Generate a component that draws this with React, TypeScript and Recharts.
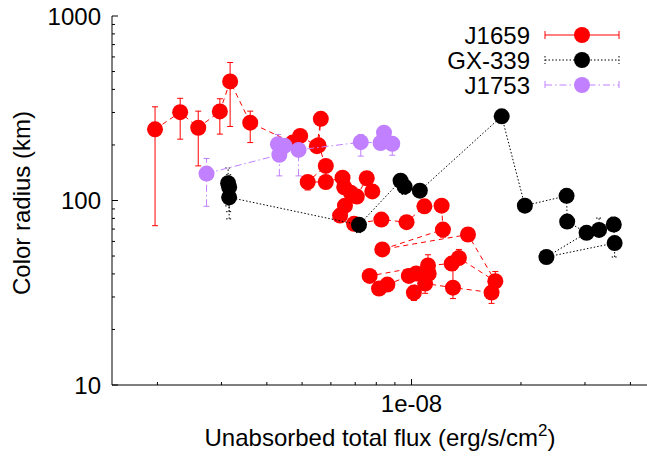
import React from 'react';
import { ScatterChart, Scatter, XAxis, YAxis, ErrorBar } from 'recharts';

// ---- Data ----
const j1659Flux = [1.97e-9, 2.31e-9, 2.59e-9, 2.97e-9, 3.17e-9, 3.6e-9, 4.71e-9, 4.94e-9, 5.49e-9, 5.63e-9, 5.55e-9, 5.81e-9, 5.18e-9, 5.81e-9, 6.46e-9, 6.53e-9, 6.81e-9, 7.07e-9, 7.53e-9, 7.8e-9, 6.56e-9, 6.36e-9, 6.95e-9, 8.26e-9, 9.69e-9, 1.085e-8, 1.21e-8, 1.22e-8, 8.31e-9, 1.43e-8, 1.7e-8, 1.35e-8, 1.29e-8, 1.11e-8, 7.67e-9, 8.14e-9, 8.58e-9, 9.83e-9, 1.015e-8, 1.03e-8, 1.115e-8, 1.09e-8, 1.3e-8, 1.66e-8];
const j1659Radius = [243, 301, 248, 304, 442, 264, 206, 224, 197, 277, 199, 154, 126, 126, 133, 118, 110, 105, 132, 112, 93.8, 82.8, 74.7, 78.8, 76.3, 93, 93.8, 69.6, 54.3, 65.4, 36.5, 48.8, 45.5, 44.5, 39, 33.3, 35, 39, 31.7, 40.2, 40.2, 35.5, 33.7, 31.7];
const j1659Low = [73, 215, 154, 229, 252, 206, 196, 212, 188, 264, 190, 147, 114, 116, 127, 112, 105, 100, 126, 107, 89, 79, 71, 75, 73, 89, 89, 63.3, 52, 62, 34.5, 46, 43, 42, 37, 31.6, 33, 37, 28.7, 38, 38, 31.4, 29.4, 27.7];
const j1659High = [322, 358, 305, 356, 560, 305, 216, 236, 206, 290, 208, 161, 132, 132, 139, 124, 115, 110, 138, 117, 98, 87, 78, 82, 80, 97, 98, 73, 57, 68, 41.2, 54.3, 48, 50.8, 41, 35, 37, 41, 33.5, 42.5, 42.5, 37.5, 41.8, 33.5];

const gxFlux = [3.13e-9, 3.15e-9, 3.15e-9, 7.17e-9, 9.33e-9, 9.57e-9, 1.054e-8, 1.77e-8, 2.05e-8, 2.67e-8, 2.68e-8, 3.03e-8, 2.35e-8, 3.62e-8, 3.6e-8, 3.28e-8];
const gxRadius = [124, 118, 104, 73.8, 128, 119, 113, 286, 93.8, 106, 76.9, 66.8, 49.4, 58.8, 74.1, 69.3];
const gxLow = [93.5, 87, 79.5, 67, 122, 108, 108, 270, 90, 101, 73, 64, 47, 49.4, 70, 66];
const gxHigh = [150, 138, 112, 80, 134, 125, 118, 305, 98, 111, 81, 70, 53.7, 62, 81.2, 80.3];

const j1753Flux = [2.73e-9, 4.33e-9, 4.29e-9, 4.47e-9, 4.89e-9, 7.25e-9, 8.22e-9, 8.4e-9, 8.85e-9];
const j1753Radius = [140, 177, 202, 198, 188, 207, 205, 233, 203];
const j1753Low = [93, 136, 180, 188, 136, 174, 194, 220, 176];
const j1753High = [169, 200, 228, 210, 224, 228, 216, 248, 220];

const seriesNames = ['J1659', 'GX-339', 'J1753'];
const seriesColors = ['#ff0000', '#000000', '#c080ff'];
const seriesDash = ['5 4', '1.5 2', '7 3 1.5 3'];

const xDomain = [1.5e-9, 4.5e-8];
const yDomain = [10, 1000];
const xTicks = [2e-9, 3e-9, 4e-9, 5e-9, 6e-9, 7e-9, 8e-9, 9e-9, 1e-8, 2e-8, 3e-8, 4e-8];
const xMajor = [1e-8];
const xMajorLabels = ['1e-08'];
const yTicks = [10, 20, 30, 40, 50, 60, 70, 80, 90, 100, 200, 300, 400, 500, 600, 700, 800, 900, 1000];
const yMajor = [10, 100, 1000];
const yMajorLabels = ['10', '100', '1000'];

const build = (fx: number[], ry: number[], lo: number[], hi: number[]) =>
  fx.map((x, i) => ({ x, y: ry[i], err: [ry[i] - lo[i], hi[i] - ry[i]] }));

const j1659Data = build(j1659Flux, j1659Radius, j1659Low, j1659High);
const gxData = build(gxFlux, gxRadius, gxLow, gxHigh);
const j1753Data = build(j1753Flux, j1753Radius, j1753Low, j1753High);

const FONT = 'Liberation Sans, Arial, Helvetica, sans-serif';
const FS = 24;
const MAJ = 6;
const MIN = 3;

const XTickBottom = (props: any) => {
  const { x, y, payload } = props;
  const idx = xMajor.indexOf(payload.value);
  const len = idx >= 0 ? MAJ : MIN;
  return (
    <g>
      <line x1={x} x2={x} y1={y} y2={y - len} stroke="#000" strokeWidth={1} />
      {idx >= 0 && (
        <text x={x} y={y + 27} textAnchor="middle" fontSize={FS} fontFamily={FONT} fill="#000">
          {xMajorLabels[idx]}
        </text>
      )}
    </g>
  );
};

const XTickTop = (props: any) => {
  const { x, y, payload } = props;
  const len = xMajor.indexOf(payload.value) >= 0 ? MAJ : MIN;
  return <line x1={x} x2={x} y1={y} y2={y + len} stroke="#000" strokeWidth={1} />;
};

const YTickLeft = (props: any) => {
  const { x, y, payload } = props;
  const idx = yMajor.indexOf(payload.value);
  const len = idx >= 0 ? MAJ : MIN;
  return (
    <g>
      <line x1={x} x2={x + len} y1={y} y2={y} stroke="#000" strokeWidth={1} />
      {idx >= 0 && (
        <text x={x - 11} y={y + 8.5} textAnchor="end" fontSize={FS} fontFamily={FONT} fill="#000">
          {yMajorLabels[idx]}
        </text>
      )}
    </g>
  );
};

const YTickRight = (props: any) => {
  const { x, y, payload } = props;
  const len = yMajor.indexOf(payload.value) >= 0 ? MAJ : MIN;
  return <line x1={x} x2={x - len} y1={y} y2={y} stroke="#000" strokeWidth={1} />;
};

const dot = (color: string) => (p: any) => <circle cx={p.cx} cy={p.cy} r={8} fill={color} />;

const LegendBox = () => {
  const rows = [35, 60, 85];
  return (
    <g>
      {seriesNames.map((name, i) => {
        const cy = rows[i];
        const c = seriesColors[i];
        const dash = i === 0 ? undefined : seriesDash[i];
        return (
          <g key={name}>
            <text x={530} y={cy + 8.5} textAnchor="end" fontSize={FS} fontFamily={FONT} fill="#000">
              {name}
            </text>
            <line x1={545} x2={619} y1={cy} y2={cy} stroke={c} strokeWidth={1} strokeDasharray={dash} />
            <line x1={545} x2={545} y1={cy - 4} y2={cy + 4} stroke={c} strokeWidth={1} strokeDasharray={dash} />
            <line x1={619} x2={619} y1={cy - 4} y2={cy + 4} stroke={c} strokeWidth={1} strokeDasharray={dash} />
            <circle cx={582} cy={cy} r={8} fill={c} />
          </g>
        );
      })}
    </g>
  );
};

export default function App() {
  return (
    <div style={{ position: 'absolute', left: 0, top: 0, width: 647, height: 460, overflow: 'hidden', background: '#fff' }}>
      <ScatterChart width={649} height={460} margin={{ top: 16, right: 0, bottom: 0, left: 0 }}>
        <XAxis
          xAxisId="b"
          dataKey="x"
          type="number"
          scale="log"
          domain={xDomain}
          allowDataOverflow
          ticks={xTicks}
          interval={0}
          tickSize={0}
          tickMargin={0}
          tickLine={false}
          axisLine={{ stroke: '#000', strokeWidth: 1 }}
          height={75}
          tick={<XTickBottom />}
        />
        <XAxis
          xAxisId="t"
          orientation="top"
          type="number"
          scale="log"
          domain={xDomain}
          allowDataOverflow
          ticks={xTicks}
          interval={0}
          tickSize={0}
          tickMargin={0}
          tickLine={false}
          axisLine={{ stroke: '#000', strokeWidth: 1 }}
          height={0}
          tick={<XTickTop />}
        />
        <YAxis
          yAxisId="l"
          dataKey="y"
          type="number"
          scale="log"
          domain={yDomain}
          allowDataOverflow
          ticks={yTicks}
          interval={0}
          tickSize={0}
          tickMargin={0}
          tickLine={false}
          axisLine={{ stroke: '#000', strokeWidth: 1 }}
          width={112}
          tick={<YTickLeft />}
        />
        <YAxis
          yAxisId="r"
          orientation="right"
          type="number"
          scale="log"
          domain={yDomain}
          allowDataOverflow
          ticks={yTicks}
          interval={0}
          tickSize={0}
          tickMargin={0}
          tickLine={false}
          axisLine={{ stroke: '#000', strokeWidth: 1 }}
          width={0}
          tick={<YTickRight />}
        />
        <Scatter
          name={seriesNames[0]}
          data={j1659Data}
          xAxisId="b"
          yAxisId="l"
          isAnimationActive={false}
          line={{ stroke: seriesColors[0], strokeWidth: 1, strokeDasharray: seriesDash[0] }}
          lineType="joint"
          shape={dot(seriesColors[0])}
        >
          <ErrorBar dataKey="err" direction="y" width={3} stroke={seriesColors[0]} strokeWidth={1} isAnimationActive={false} />
        </Scatter>
        <Scatter
          name={seriesNames[1]}
          data={gxData}
          xAxisId="b"
          yAxisId="l"
          isAnimationActive={false}
          line={{ stroke: seriesColors[1], strokeWidth: 1, strokeDasharray: seriesDash[1] }}
          lineType="joint"
          shape={dot(seriesColors[1])}
        >
          <ErrorBar dataKey="err" direction="y" width={3} stroke={seriesColors[1]} strokeWidth={1} strokeDasharray={seriesDash[1]} isAnimationActive={false} />
        </Scatter>
        <Scatter
          name={seriesNames[2]}
          data={j1753Data}
          xAxisId="b"
          yAxisId="l"
          isAnimationActive={false}
          line={{ stroke: seriesColors[2], strokeWidth: 1, strokeDasharray: seriesDash[2] }}
          lineType="joint"
          shape={dot(seriesColors[2])}
        >
          <ErrorBar dataKey="err" direction="y" width={3} stroke={seriesColors[2]} strokeWidth={1} strokeDasharray={seriesDash[2]} isAnimationActive={false} />
        </Scatter>
        <text x={30} y={203} transform="rotate(-90, 30, 203)" textAnchor="middle" fontSize={FS} fontFamily={FONT} fill="#000">
          Color radius (km)
        </text>
        <text x={380} y={446} textAnchor="middle" fontSize={FS} fontFamily={FONT} fill="#000">
          Unabsorbed total flux (erg/s/cm
          <tspan dy={-10} fontSize={17}>2</tspan>
          <tspan dy={10}>)</tspan>
        </text>
        <LegendBox />
      </ScatterChart>
    </div>
  );
}
